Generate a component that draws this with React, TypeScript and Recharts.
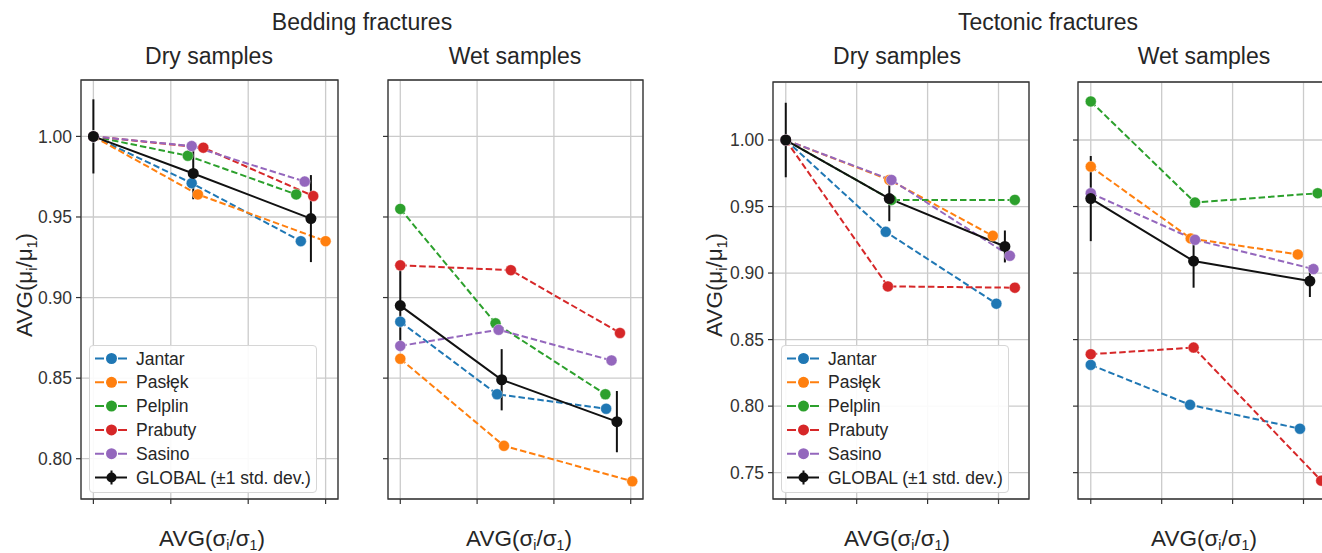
import React from 'react';
import { LineChart, Line, XAxis, YAxis, CartesianGrid, ErrorBar, ReferenceArea } from 'recharts';

// sites in legend order
const sites = ['Jantar', 'Pasłęk', 'Pelplin', 'Prabuty', 'Sasino'];
const siteColors = ['#1f77b4', '#ff7f0e', '#2ca02c', '#d62728', '#9467bd'];
const globalLabel = 'GLOBAL (±1 std. dev.)';

const xTicks = [0, 1, 2, 3];
const beddingYTicks = [0.8, 0.85, 0.9, 0.95, 1.0];
const tectonicYTicks = [0.75, 0.8, 0.85, 0.9, 0.95, 1.0];

// Bedding fractures, dry
const bedDryX = [[0, 1.27, 2.68], [0, 1.35, 3.0], [0, 1.22, 2.62], [0, 1.42, 2.84], [0, 1.27, 2.73]];
const bedDryY = [[1, 0.971, 0.935], [1, 0.964, 0.935], [1, 0.988, 0.964], [1, 0.993, 0.963], [1, 0.994, 0.972]];
const bedDryGlobalX = [0, 1.29, 2.81];
const bedDryGlobalY = [1, 0.977, 0.949];
const bedDryGlobalStd = [0.023, 0.016, 0.027];

// Bedding fractures, wet
const bedWetX = [[0, 1.26, 2.68], [0, 1.35, 3.02], [0, 1.24, 2.67], [0, 1.44, 2.86], [0, 1.28, 2.75]];
const bedWetY = [[0.885, 0.84, 0.831], [0.862, 0.808, 0.786], [0.955, 0.884, 0.84], [0.92, 0.917, 0.878], [0.87, 0.88, 0.861]];
const bedWetGlobalX = [0, 1.32, 2.82];
const bedWetGlobalY = [0.895, 0.849, 0.823];
const bedWetGlobalStd = [0.023, 0.019, 0.019];

// Tectonic fractures, dry
const tecDryX = [[0, 1.41, 2.97], [0, 1.46, 2.92], [0, 1.49, 3.23], [0, 1.44, 3.23], [0, 1.49, 3.16]];
const tecDryY = [[1, 0.931, 0.877], [1, 0.97, 0.928], [1, 0.955, 0.955], [1, 0.89, 0.889], [1, 0.97, 0.913]];
const tecDryGlobalX = [0, 1.46, 3.09];
const tecDryGlobalY = [1, 0.956, 0.92];
const tecDryGlobalStd = [0.028, 0.017, 0.012];

// Tectonic fractures, wet
const tecWetX = [[0, 1.4, 2.95], [0, 1.41, 2.92], [0, 1.47, 3.2], [0, 1.45, 3.25], [0, 1.47, 3.14]];
const tecWetY = [[0.831, 0.801, 0.783], [0.98, 0.926, 0.914], [1.029, 0.953, 0.96], [0.839, 0.844, 0.744], [0.96, 0.925, 0.903]];
const tecWetGlobalX = [0, 1.45, 3.09];
const tecWetGlobalY = [0.956, 0.909, 0.894];
const tecWetGlobalStd = [0.032, 0.02, 0.012];

const FONT = '"Liberation Sans", Arial, sans-serif';
const H = 553;

const toPoints = (xs: number[], ys: number[], std?: number[]) =>
  xs.map((x, i) => ({ x, y: ys[i], err: std ? std[i] : 0 }));

// tick marks only, no labels
const NoLabel = () => <g />;

type PanelProps = {
  left: number;
  width: number;
  margin: { top: number; right: number; bottom: number; left: number };
  xDomain: [number, number];
  yDomain: [number, number];
  yTicks: number[];
  showY: boolean;
  sx: number[][];
  sy: number[][];
  gx: number[];
  gy: number[];
  gs: number[];
};

const Panel = (p: PanelProps) => (
  <div style={{ position: 'absolute', left: p.left, top: 0 }}>
    <LineChart width={p.width} height={H} margin={p.margin}>
      <CartesianGrid stroke="#cbcbcb" strokeWidth={1.3} />
      <XAxis
        type="number"
        dataKey="x"
        domain={p.xDomain}
        ticks={xTicks}
        tick={NoLabel}
        tickSize={5}
        height={20}
        axisLine={false}
        tickLine={{ stroke: '#333', strokeWidth: 1.2 }}
        allowDataOverflow
      />
      <YAxis
        type="number"
        dataKey="y"
        domain={p.yDomain}
        ticks={p.yTicks}
        tickFormatter={(v: number) => v.toFixed(2)}
        tick={p.showY ? { fill: '#333', fontSize: 17.5, fontFamily: FONT } : NoLabel}
        tickSize={5}
        tickMargin={4}
        width={40}
        axisLine={false}
        tickLine={{ stroke: '#333', strokeWidth: 1.2 }}
        allowDataOverflow
      />
      <ReferenceArea
        x1={p.xDomain[0]}
        x2={p.xDomain[1]}
        y1={p.yDomain[0]}
        y2={p.yDomain[1]}
        fill="none"
        stroke="#333"
        strokeWidth={1.3}
        ifOverflow="visible"
      />
      {sites.map((s, i) => (
        <Line
          key={s}
          data={toPoints(p.sx[i], p.sy[i])}
          dataKey="y"
          name={s}
          type="linear"
          stroke={siteColors[i]}
          strokeWidth={2}
          strokeDasharray="6.5 3"
          dot={{ r: 5.5, fill: siteColors[i], stroke: '#fff', strokeWidth: 0.4, strokeDasharray: 'none' }}
          activeDot={false}
          isAnimationActive={false}
        />
      ))}
      <Line
        data={toPoints(p.gx, p.gy, p.gs)}
        dataKey="y"
        name={globalLabel}
        type="linear"
        stroke="#111"
        strokeWidth={2}
        dot={{ r: 5.5, fill: '#111', stroke: '#111', strokeWidth: 0 }}
        activeDot={false}
        isAnimationActive={false}
      >
        <ErrorBar dataKey="err" direction="y" width={0} stroke="#111" strokeWidth={2} isAnimationActive={false} />
      </Line>
    </LineChart>
  </div>
);

const LegendBox = ({ left, top }: { left: number; top: number }) => (
  <div
    style={{
      position: 'absolute',
      left,
      top,
      width: 228,
      height: 148,
      border: '1px solid #d6d6d6',
      borderRadius: 4,
      background: 'rgba(255,255,255,0.9)',
      boxSizing: 'border-box',
    }}
  >
    <svg width={226} height={146} style={{ position: 'absolute', left: 0, top: 0 }}>
      {sites.map((s, i) => (
        <g key={s} transform={`translate(0, ${12.5 + i * 23.8})`}>
          <line x1={5} x2={37} y1={0} y2={0} stroke={siteColors[i]} strokeWidth={2} strokeDasharray="9 14" />
          <circle cx={21.5} cy={0} r={5.5} fill={siteColors[i]} />
          <text x={46} y={6} fontSize={17.5} fill="#262626" fontFamily={FONT}>{s}</text>
        </g>
      ))}
      <g transform={`translate(0, ${12.5 + 5 * 23.8})`}>
        <line x1={5} x2={37} y1={0} y2={0} stroke="#111" strokeWidth={2} />
        <line x1={21.5} x2={21.5} y1={-7} y2={7} stroke="#111" strokeWidth={2} />
        <circle cx={21.5} cy={0} r={5} fill="#111" />
        <text x={46} y={6} fontSize={17.5} fill="#262626" fontFamily={FONT}>{globalLabel}</text>
      </g>
    </svg>
  </div>
);

const XLabel = ({ x }: { x: number }) => (
  <text x={x} y={546} textAnchor="middle" fontSize={22.5}>
    AVG(σ<tspan dy={4} fontSize={14}>i</tspan>
    <tspan dy={-4}>/σ</tspan>
    <tspan dy={4} fontSize={14}>1</tspan>
    <tspan dy={-4}>)</tspan>
  </text>
);

const YLabel = ({ x, y }: { x: number; y: number }) => (
  <text transform={`translate(${x}, ${y}) rotate(-90)`} textAnchor="middle" fontSize={22.5}>
    AVG(μ<tspan dy={5} fontSize={14}>i</tspan>
    <tspan dy={-5}>/μ</tspan>
    <tspan dy={5} fontSize={14}>1</tspan>
    <tspan dy={-5}>)</tspan>
  </text>
);

const bedXDomain: [number, number] = [-0.16, 3.16];
const tecXDomain: [number, number] = [-0.18, 3.43];
const bedYDomain: [number, number] = [0.775, 1.035];
const tecYDomain: [number, number] = [0.7302, 1.0436];

export default function App() {
  return (
    <div
      style={{
        position: 'absolute',
        left: 0,
        top: 0,
        width: 1322,
        height: H,
        overflow: 'hidden',
        background: '#fff',
        fontFamily: FONT,
      }}
    >
      <Panel
        left={0}
        width={345}
        margin={{ top: 80, right: 7, bottom: 34, left: 41 }}
        xDomain={bedXDomain}
        yDomain={bedYDomain}
        yTicks={beddingYTicks}
        showY
        sx={bedDryX}
        sy={bedDryY}
        gx={bedDryGlobalX}
        gy={bedDryGlobalY}
        gs={bedDryGlobalStd}
      />
      <Panel
        left={345}
        width={310}
        margin={{ top: 80, right: 12, bottom: 34, left: 3 }}
        xDomain={bedXDomain}
        yDomain={bedYDomain}
        yTicks={beddingYTicks}
        showY={false}
        sx={bedWetX}
        sy={bedWetY}
        gx={bedWetGlobalX}
        gy={bedWetGlobalY}
        gs={bedWetGlobalStd}
      />
      <Panel
        left={690}
        width={345}
        margin={{ top: 82, right: 6, bottom: 34, left: 43 }}
        xDomain={tecXDomain}
        yDomain={tecYDomain}
        yTicks={tectonicYTicks}
        showY
        sx={tecDryX}
        sy={tecDryY}
        gx={tecDryGlobalX}
        gy={tecDryGlobalY}
        gs={tecDryGlobalStd}
      />
      <Panel
        left={1030}
        width={310}
        margin={{ top: 82, right: 6, bottom: 34, left: 8 }}
        xDomain={tecXDomain}
        yDomain={tecYDomain}
        yTicks={tectonicYTicks}
        showY={false}
        sx={tecWetX}
        sy={tecWetY}
        gx={tecWetGlobalX}
        gy={tecWetGlobalY}
        gs={tecWetGlobalStd}
      />
      <LegendBox left={89} top={345} />
      <LegendBox left={781} top={345} />
      <svg
        width={1322}
        height={H}
        style={{ position: 'absolute', left: 0, top: 0, pointerEvents: 'none' }}
        fontFamily={FONT}
        fill="#262626"
      >
        <text x={362} y={30} textAnchor="middle" fontSize={23}>Bedding fractures</text>
        <text x={1048} y={30} textAnchor="middle" fontSize={23}>Tectonic fractures</text>
        <text x={209} y={64} textAnchor="middle" fontSize={23}>Dry samples</text>
        <text x={515} y={64} textAnchor="middle" fontSize={23}>Wet samples</text>
        <text x={897} y={64} textAnchor="middle" fontSize={23}>Dry samples</text>
        <text x={1204} y={64} textAnchor="middle" fontSize={23}>Wet samples</text>
        <XLabel x={212} />
        <XLabel x={519} />
        <XLabel x={897} />
        <XLabel x={1204} />
        <YLabel x={32} y={285} />
        <YLabel x={722} y={285} />
      </svg>
    </div>
  );
}
